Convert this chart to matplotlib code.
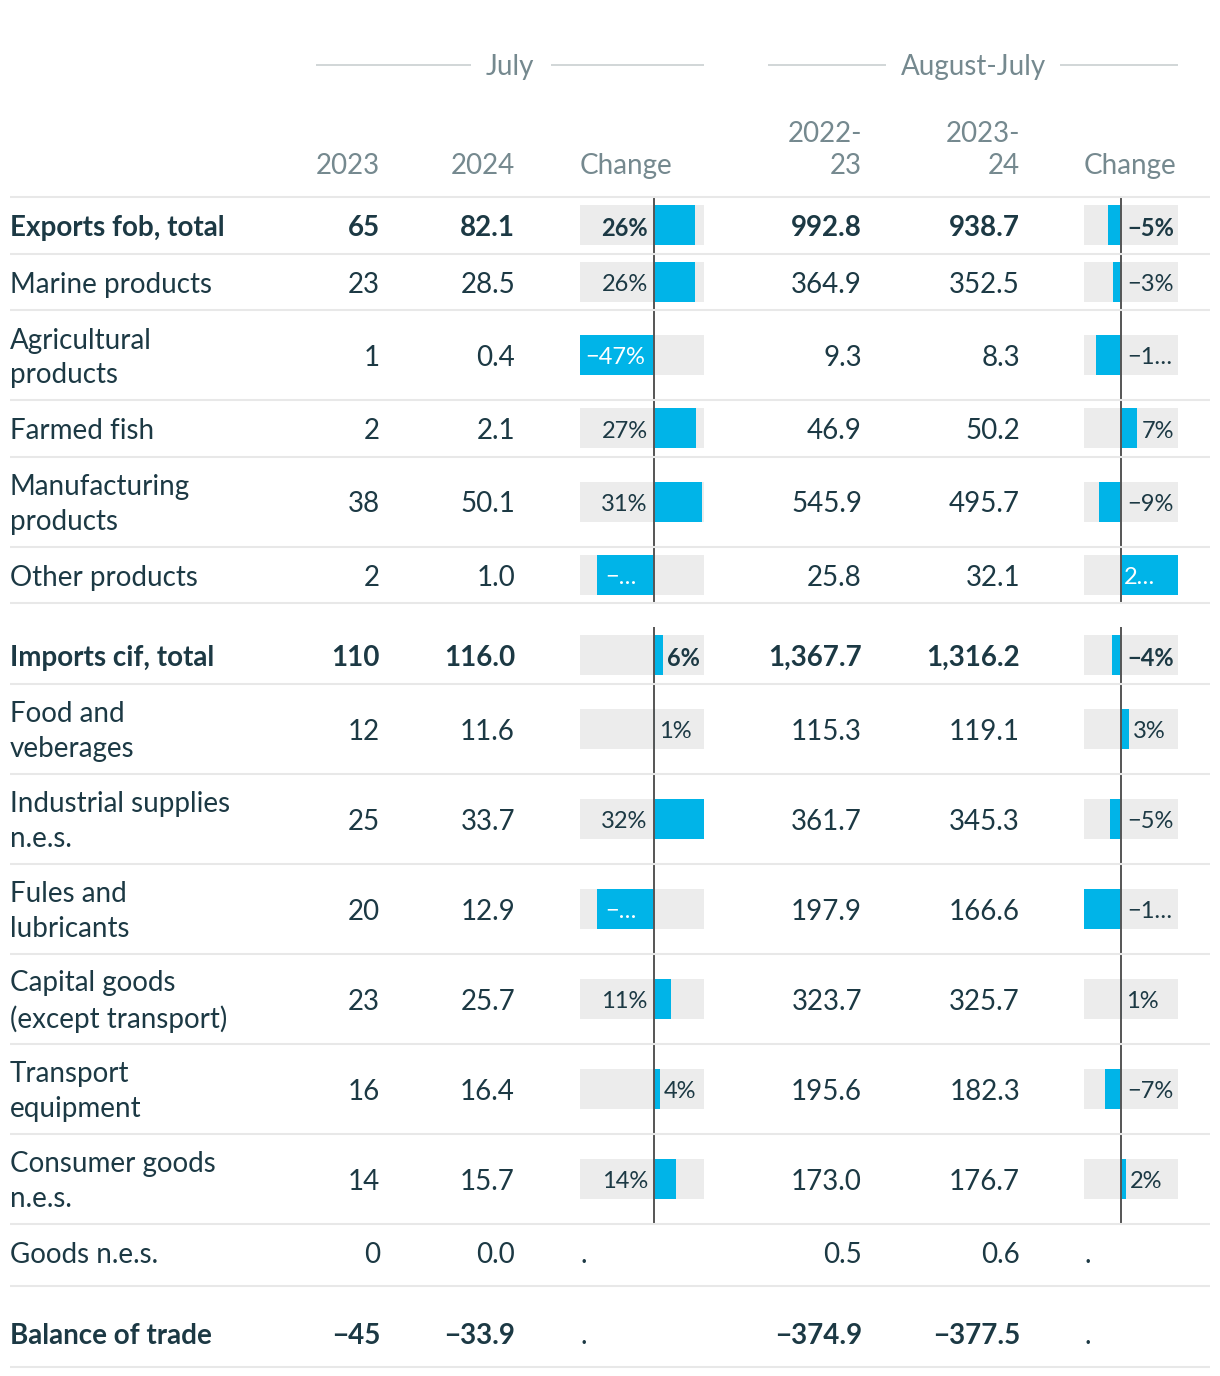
import matplotlib
matplotlib.use("Agg")
import matplotlib.pyplot as plt

plt.rcParams["font.family"] = ["Lato", "DejaVu Sans"]

# table data
labels = ["Exports fob, total", "Marine products", "Agricultural\nproducts", "Farmed fish",
          "Manufacturing\nproducts", "Other products", "Imports cif, total", "Food and\nveberages",
          "Industrial supplies\nn.e.s.", "Fules and\nlubricants", "Capital goods\n(except transport)",
          "Transport\nequipment", "Consumer goods\nn.e.s.", "Goods n.e.s.", "Balance of trade"]
bold_rows = ["Exports fob, total", "Imports cif, total", "Balance of trade"]
spaced_rows = ["Imports cif, total", "Balance of trade"]

jul_2023 = [65, 23, 1, 2, 38, 2, 110, 12, 25, 20, 23, 16, 14, 0, -45]
jul_2024 = [82.1, 28.5, 0.4, 2.1, 50.1, 1.0, 116.0, 11.6, 33.7, 12.9, 25.7, 16.4, 15.7, 0.0, -33.9]
jul_change = [26, 26, -47, 27, 31, -36, 6, 1, 32, -36, 11, 4, 14, None, None]
aug_2223 = [992.8, 364.9, 9.3, 46.9, 545.9, 25.8, 1367.7, 115.3, 361.7, 197.9, 323.7, 195.6, 173.0, 0.5, -374.9]
aug_2324 = [938.7, 352.5, 8.3, 50.2, 495.7, 32.1, 1316.2, 119.1, 345.3, 166.6, 325.7, 182.3, 176.7, 0.6, -377.5]
aug_change = [-5.4, -3.4, -10.8, 7.0, -9.2, 24.4, -3.8, 3.3, -4.6, -15.8, 0.6, -6.8, 2.1, None, None]

W, H = 1220, 1376
DARK = "#1c3944"
GREY = "#75898f"
RULE = "#e8e8e8"
BLUE = "#00b4e8"
BOX = "#ececec"
FS = 20
FS_BAR = 17
DY = 3  # nudge text down to sit like the reference

fig = plt.figure(figsize=(W / 100, H / 100), dpi=100)
ax = fig.add_axes([0, 0, 1, 1])
ax.set_xlim(0, W)
ax.set_ylim(H, 0)
ax.axis("off")
ax.set_zorder(10)
renderer = fig.canvas.get_renderer()


def num(v, fmt):
    return format(v, fmt).replace("-", "\u2212")


# headers
ax.text(510, 65 + 2, "July", ha="center", va="center", fontsize=FS, color=GREY)
ax.hlines([65, 65], [316, 551], [471, 704], color="#c9cfd1", lw=1.2)
ax.text(973, 65 + 2, "August-July", ha="center", va="center", fontsize=FS, color=GREY)
ax.hlines([65, 65], [768, 1060], [886, 1178], color="#c9cfd1", lw=1.2)
ax.text(380, 163 + DY, "2023", ha="right", va="center", fontsize=FS, color=GREY)
ax.text(515, 163 + DY, "2024", ha="right", va="center", fontsize=FS, color=GREY)
ax.text(580, 163 + DY, "Change", ha="left", va="center", fontsize=FS, color=GREY)
ax.text(862, 147 + DY, "2022-\n23", ha="right", va="center", multialignment="right",
        fontsize=FS, color=GREY, linespacing=1.3)
ax.text(1020, 147 + DY, "2023-\n24", ha="right", va="center", multialignment="right",
        fontsize=FS, color=GREY, linespacing=1.3)
ax.text(1084, 163 + DY, "Change", ha="left", va="center", fontsize=FS, color=GREY)
ax.hlines(197, 10, 1210, color=RULE, lw=1.5)

# row geometry
tops, bottoms, centers = [], [], []
y = 197
for i, lab in enumerate(labels):
    has_bar = jul_change[i] is not None
    if lab in spaced_rows:
        y += 24 if has_bar else 19
    h = 90 if "\n" in lab else (56.5 if has_bar else 62)
    tops.append(y)
    centers.append(y + h / 2 if has_bar else y + 28.5)
    y += h
    bottoms.append(y)
    ax.hlines(y, 10, 1210, color=RULE, lw=1.5)

for i, lab in enumerate(labels):
    w = "bold" if lab in bold_rows else "normal"
    yc = centers[i] + DY
    ax.text(10, yc, lab, ha="left", va="center", fontsize=FS, color=DARK, fontweight=w, linespacing=1.4)
    ax.text(380, yc, num(jul_2023[i], ".0f"), ha="right", va="center", fontsize=FS, color=DARK, fontweight=w)
    ax.text(515, yc, num(jul_2024[i], ".1f"), ha="right", va="center", fontsize=FS, color=DARK, fontweight=w)
    ax.text(862, yc, num(aug_2223[i], ",.1f"), ha="right", va="center", fontsize=FS, color=DARK, fontweight=w)
    ax.text(1020, yc, num(aug_2324[i], ",.1f"), ha="right", va="center", fontsize=FS, color=DARK, fontweight=w)


def text_w(s, weight):
    t = ax.text(0, 0, s, fontsize=FS_BAR, fontweight=weight)
    w = t.get_window_extent(renderer).width
    t.remove()
    return w


def shorten(s, room, weight):
    if text_w(s, weight) <= room:
        return s
    for k in range(len(s) - 1, 0, -1):
        t = s[:k] + "\u2026"
        if text_w(t, weight) <= room:
            return t
    return "\u2026"


def change_column(x0, x1, values):
    vals = [v for v in values if v is not None]
    lo, hi = min(vals), max(vals)
    cax = fig.add_axes([x0 / W, 0, (x1 - x0) / W, 1])
    cax.set_xlim(lo, hi)
    cax.set_ylim(H, 0)
    cax.axis("off")
    pad = 5
    for i, v in enumerate(values):
        yc = centers[i]
        if v is None:
            ax.text(x0, yc + DY, ".", ha="left", va="center", fontsize=FS, color=DARK)
            continue
        cax.barh(yc, hi - lo, left=lo, height=40, color=BOX, lw=0)
        cax.barh(yc, v, height=40, color=BLUE, lw=0)
        cax.vlines(0, tops[i], bottoms[i], color="#555555", lw=1.4)

        weight = "bold" if labels[i] in bold_rows else "normal"
        zero = cax.transData.transform((0, 0))[0]
        end = cax.transData.transform((v, 0))[0]
        s = num(round(v), ".0f") + "%"
        w = text_w(s, weight)
        if v > 0:
            out_room, opp_room = x1 - end, zero - x0
        else:
            out_room, opp_room = end - x0, x1 - zero
        bar_w = abs(end - zero)
        sgn = 1 if v > 0 else -1
        if out_room >= w + 4:
            x, ha, col = end + sgn * 4, ("left" if v > 0 else "right"), DARK
        elif opp_room >= w + 2 * pad:
            x, ha, col = zero - sgn * 6, ("right" if v > 0 else "left"), DARK
        elif bar_w >= w + 13:
            x, ha, col = end - sgn * pad, ("right" if v > 0 else "left"), "white"
        elif opp_room >= bar_w:
            s = shorten(s, opp_room - 2 * pad, weight)
            x, ha, col = zero - sgn * 6, ("right" if v > 0 else "left"), DARK
        else:
            s = shorten(s, bar_w - 16, weight)
            x, ha, col = (end + 8, "left", "white") if v < 0 else (zero + 3, "left", "white")
        ax.text(x, yc + 3, s, ha=ha, va="center", fontsize=FS_BAR, color=col, fontweight=weight)


change_column(580, 704, jul_change)
change_column(1084, 1178, aug_change)

fig.savefig("out.png", dpi=100, facecolor="white")
